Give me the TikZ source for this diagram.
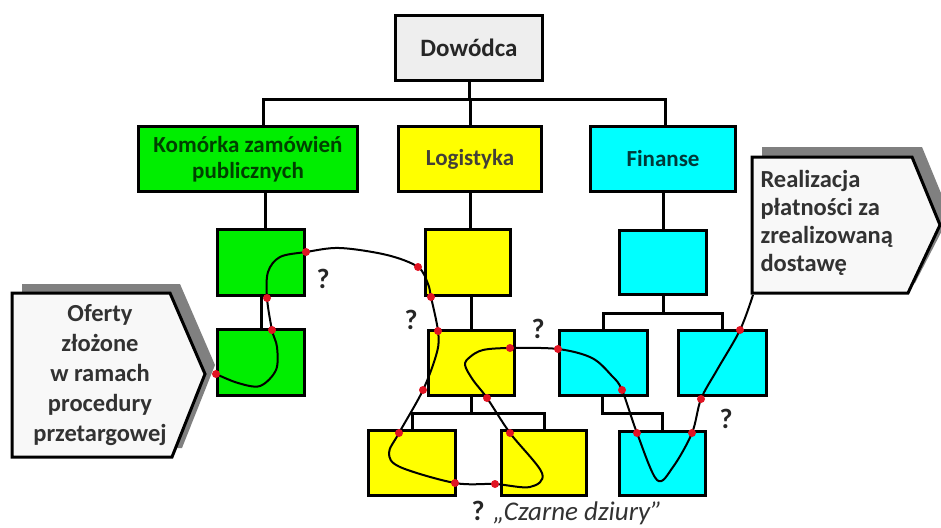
\documentclass[tikz,border=0pt]{standalone}
\usepackage{fontspec}
\setmainfont{Carlito}
\definecolor{boxgreen}{RGB}{0,238,0}
\definecolor{boxyellow}{RGB}{255,255,0}
\definecolor{boxcyan}{RGB}{0,255,255}
\definecolor{headgray}{RGB}{238,238,238}
\definecolor{calloutfill}{RGB}{248,248,248}
\definecolor{shadowgray}{RGB}{128,128,128}
\definecolor{textgray}{RGB}{50,50,50}
\definecolor{dotred}{RGB}{225,20,35}
\begin{document}
\begin{tikzpicture}[x=1pt,y=-1pt,
  unit/.style={draw=black, line width=3pt, inner sep=0pt, align=center},
  headtext/.style={font=\bfseries\fontsize{23}{26}\selectfont},
  conn/.style={draw=black, line width=3pt},
  flow/.style={draw=black, line width=2pt},
  dot/.style={fill=dotred, circle, inner sep=0pt, minimum size=8pt},
  query/.style={font=\bfseries\fontsize{28}{28}\selectfont, text=black!85, inner sep=0pt},
  callout/.style={draw=black, line width=3pt, fill=calloutfill, line join=miter},
  shade/.style={fill=shadowgray}
]
\useasboundingbox (0,0) rectangle (941,527);

% ---- hierarchy of units ----
\node[unit, fill=headgray, minimum width=147pt, minimum height=65pt,
      font=\bfseries\fontsize{25}{25}\selectfont, text=black!85] (dow) at (469,48) {Dowódca};
\node[unit, fill=boxgreen, minimum width=219pt, minimum height=65pt,
      headtext, text=black!75!green] (kom) at (248,159) {Komórka zamówień\\publicznych};
\node[unit, fill=boxyellow, minimum width=143pt, minimum height=65pt,
      headtext, text=black!85!yellow] (log) at (470,159) {Logistyka};
\node[unit, fill=boxcyan, minimum width=145pt, minimum height=65pt,
      headtext, text=black!55!teal] (fin) at (663,159) {Finanse};

\node[unit, fill=boxgreen, minimum width=87pt, minimum height=66pt] (g1) at (261,262.5) {};
\node[unit, fill=boxgreen, minimum width=87pt, minimum height=66pt] (g2) at (261,362.5) {};

\node[unit, fill=boxyellow, minimum width=85pt, minimum height=66pt] (y1) at (468,262.5) {};
\node[unit, fill=boxyellow, minimum width=86pt, minimum height=65pt] (y2) at (471.5,363) {};
\node[unit, fill=boxyellow, minimum width=87pt, minimum height=65pt] (y3) at (412,463) {};
\node[unit, fill=boxyellow, minimum width=85pt, minimum height=65pt] (y4) at (544,463) {};

\node[unit, fill=boxcyan, minimum width=87pt, minimum height=64pt] (c1) at (663,262.5) {};
\node[unit, fill=boxcyan, minimum width=88pt, minimum height=65pt] (c2) at (603.5,363) {};
\node[unit, fill=boxcyan, minimum width=88pt, minimum height=65pt] (c3) at (722.5,363) {};
\node[unit, fill=boxcyan, minimum width=86pt, minimum height=64pt] (c4) at (662.5,463.5) {};

% ---- organisational links ----
\coordinate (busL) at (263,99);
\coordinate (busR) at (665,99);
\draw[conn] (dow.south) -- (dow.south |- busL);
\draw[conn] (kom.north -| busL) -- (busL) -- (busR) -- (fin.north -| busR);
\draw[conn] (log.north) -- (log.north |- busL);

\draw[conn] ([xshift=4pt]g1.north) -- ([xshift=4pt]g1.north |- kom.south);
\draw[conn] (g1.south) -- (g2.north);
\draw[conn] (log.south) -- (log.south |- y1.north);
\draw[conn] ([xshift=3pt]y1.south) -- ([xshift=3pt]y1.south |- y2.north);

\coordinate (ybus) at (471,413);
\draw[conn] (y2.south -| ybus) -- (ybus);
\draw[conn] (y3.north) |- (ybus) -| (y4.north);

\draw[conn] (fin.south) -- (c1.north);
\coordinate (cbus) at (663,313);
\draw[conn] (c1.south) -- (cbus);
\draw[conn] (c2.north) |- (cbus) -| (c3.north);
\coordinate (c2tap) at (602,413);
\draw[conn] (c2.south -| c2tap) -- (c2tap) -| (c4.north);

% ---- callouts ----
\fill[shade] (22,284) -- (180,284) -- (215,365) -- (182,448) -- (22,448) -- cycle;
\draw[callout] (12,293) -- (170,293) -- (205,374) -- (172,457) -- (12,457) -- cycle;
\node[font=\bfseries\fontsize{24.5}{30}\selectfont, text=textgray, align=center] (offer) at (100,375)
  {Oferty\\złożone\\w ramach\\procedury\\przetargowej};

\fill[shade] (762,147) -- (922,147) -- (950,215) -- (915,283) -- (762,283) -- cycle;
\draw[callout] (752,157) -- (912,157) -- (940,225) -- (908,293) -- (752,293) -- cycle;
\node[font=\bfseries\fontsize{24.5}{28}\selectfont, text=textgray, align=left, anchor=west] (pay) at (757,223)
  {Realizacja\\płatności za\\zrealizowaną\\dostawę};

% ---- document path ----
\coordinate (p1) at (216,374);
\coordinate (p2) at (272,330);
\coordinate (p3) at (267,298);
\coordinate (p4) at (306,252);
\coordinate (p5) at (418,267);
\coordinate (p6) at (431,297);
\coordinate (p7) at (438,331);
\coordinate (p8) at (423,390);
\coordinate (p9) at (399,433);
\coordinate (p10) at (455,483);
\coordinate (p11) at (495,484);
\coordinate (p12) at (510,433);
\coordinate (p13) at (487,398);
\coordinate (p14) at (510,348);
\coordinate (p15) at (558,349);
\coordinate (p16) at (622,390);
\coordinate (p17) at (637,433);
\coordinate (p18) at (692,433);
\coordinate (p19) at (701,399);
\coordinate (p20) at (740,330);
\coordinate (pend) at (753,295);

\draw[flow] plot[smooth, tension=0.55] coordinates {
  (p1) (238,383) (260,386) (276,370) (277,347) (p2) (p3) (268,272) (280,257) (p4)
  (340,248) (387,255) (p5) (428,284) (p6) (p7) (437,352) (p8) (p9)
  (389,453) (400,467) (p10) (p11) (530,487) (542,473) (p12) (p13)
  (473,380) (465,365) (470,357) (483,350) (p14) (p15) (592,358) (612,376) (p16) (p17)
  (657,480) (673,467) (p18) (p19) (717,370) (p20) (pend)};

\foreach \p in {p1,p2,p3,p4,p5,p6,p7,p8,p9,p10,p11,p12,p13,p14,p15,p16,p17,p18,p19,p20}
  \node[dot] at (\p) {};

% ---- question marks ----
\node[query] (q1) at (323,279) {?};
\node[query] (q2) at (411,320) {?};
\node[query] (q3) at (538,329) {?};
\node[query] (q4) at (726,419) {?};
\node[query, anchor=base] (q5) at (478,520) {?};
\node[font=\itshape\fontsize{27}{27}\selectfont, text=textgray, anchor=base west, inner sep=0pt] (holes)
  at (493,520) {„Czarne dziury”};
\end{tikzpicture}
\end{document}
